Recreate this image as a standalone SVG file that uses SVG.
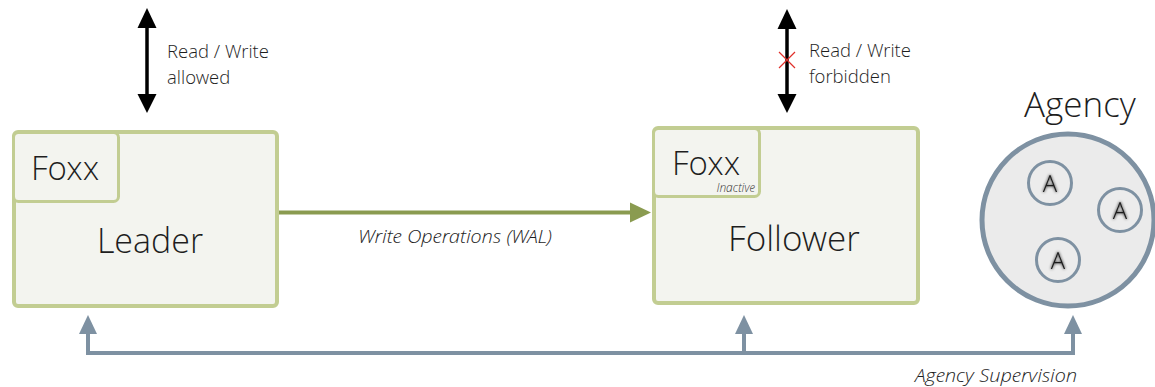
<svg xmlns="http://www.w3.org/2000/svg" width="1155" height="387" viewBox="0 0 1155 387">
<style>
.box{fill:#f3f4ef;stroke:#c2cd92;stroke-width:4}
.inner{fill:#f3f4ef;stroke:#c2cd92;stroke-width:3}
.big{font-family:"Open Sans Light","Open Sans","DejaVu Sans",sans-serif;font-weight:300;fill:#1e1e1e}
.small{font-family:"Open Sans Light","Open Sans","DejaVu Sans",sans-serif;font-weight:300;font-size:18.5px;fill:#1e1e1e}
.it{font-family:"Open Sans Light","Open Sans","DejaVu Sans",sans-serif;font-style:italic;font-weight:300;font-size:18.5px;fill:#1e1e1e}
.sup{fill:none;stroke:#7e91a2;stroke-width:4}
.supHead{fill:#7e91a2}
.agent{fill:#ececec;stroke:#7e91a2;stroke-width:3}
</style>
<defs>
<filter id="glow" x="-50%" y="-50%" width="200%" height="200%">
<feGaussianBlur in="SourceAlpha" stdDeviation="1.5" result="b"/>
<feMerge><feMergeNode in="b"/><feMergeNode in="SourceGraphic"/></feMerge>
</filter>
</defs>
<rect width="1155" height="387" fill="#ffffff"/>

<g id="connectors">
<line x1="147" y1="24" x2="147" y2="97" stroke="#000" stroke-width="3.5"/>
<polygon points="147,8 137.5,28 156.5,28" fill="#000"/>
<polygon points="147,113 137.5,94 156.5,94" fill="#000"/>
<line x1="787" y1="24" x2="787" y2="97" stroke="#000" stroke-width="3.5"/>
<polygon points="787,9 777.5,29 796.5,29" fill="#000"/>
<polygon points="787,113 777.5,94 796.5,94" fill="#000"/>
<path d="M779,52 L795,68 M795,52 L779,68" stroke="#e0302a" stroke-width="1.2" fill="none"/>
<line x1="279" y1="212.5" x2="633" y2="212.5" stroke="#8a9b50" stroke-width="4"/>
<polygon points="651,212.5 630,202.5 630,222.5" fill="#8a9b50"/>
<path class="sup" d="M88,330 V353 H1073 V330 M744,353 V330"/>
<polygon class="supHead" points="88,315 79,334 97,334"/>
<polygon class="supHead" points="744,315 735,334 753,334"/>
<polygon class="supHead" points="1073,315 1064,334 1082,334"/>
</g>

<g id="labels">
<text class="small" x="167" y="58">Read / Write</text>
<text class="small" x="167" y="84">allowed</text>
<text class="small" x="809" y="57">Read / Write</text>
<text class="small" x="809" y="83">forbidden</text>
<text class="it" x="358" y="243" textLength="194" lengthAdjust="spacingAndGlyphs">Write Operations (WAL)</text>
<text class="it" x="915" y="382" textLength="162" lengthAdjust="spacingAndGlyphs">Agency Supervision</text>
</g>

<g id="leader">
<rect class="box" x="14" y="132" width="263" height="174" rx="4"/>
<rect class="inner" x="13.5" y="132.5" width="105" height="69" rx="5"/>
<text class="big" x="31" y="180" font-size="33">Foxx</text>
<text class="big" x="150" y="253" font-size="34" text-anchor="middle">Leader</text>
</g>

<g id="follower">
<rect class="box" x="654" y="128" width="264" height="175" rx="4"/>
<rect class="inner" x="653.5" y="128.5" width="106" height="68" rx="5"/>
<text class="big" x="672" y="175" font-size="33">Foxx</text>
<text x="755" y="192" font-family="'Open Sans Light','Open Sans','DejaVu Sans',sans-serif" font-style="italic" font-weight="300" font-size="12" fill="#333" text-anchor="end">Inactive</text>
<text class="big" x="794" y="251" font-size="35" text-anchor="middle">Follower</text>
</g>

<g id="agency">
<circle cx="1068" cy="220" r="86" fill="#ebebeb" stroke="#7e91a2" stroke-width="5"/>
<text class="big" x="1080" y="117" font-size="35" text-anchor="middle">Agency</text>
<g id="agent1">
<circle class="agent" cx="1050" cy="183" r="21.5"/>
<text class="big" x="1050" y="192" font-size="24" text-anchor="middle" filter="url(#glow)">A</text>
</g>
<g id="agent2">
<circle class="agent" cx="1120" cy="210" r="21.5"/>
<text class="big" x="1120" y="219" font-size="24" text-anchor="middle" filter="url(#glow)">A</text>
</g>
<g id="agent3">
<circle class="agent" cx="1058" cy="260" r="21.5"/>
<text class="big" x="1058" y="269" font-size="24" text-anchor="middle" filter="url(#glow)">A</text>
</g>
</g>
</svg>
